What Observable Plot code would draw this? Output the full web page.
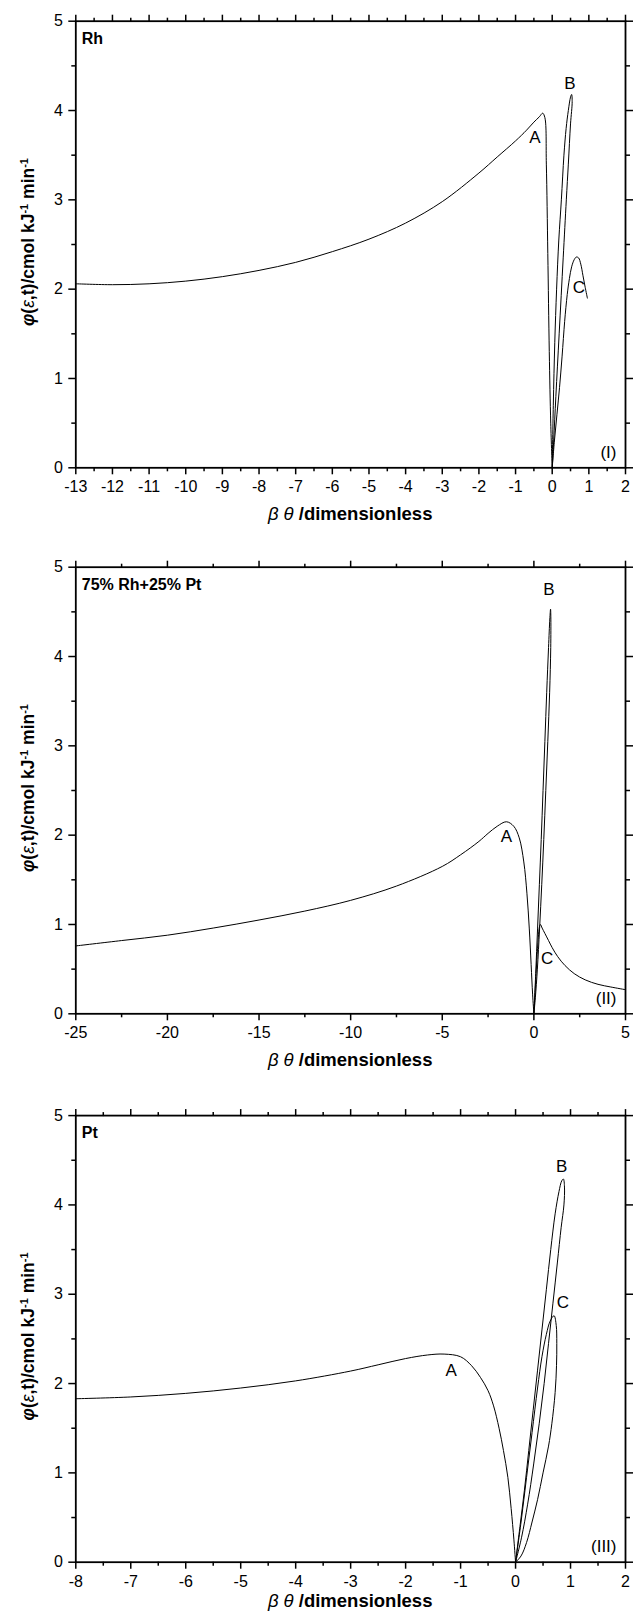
<!DOCTYPE html>
<html><head><meta charset="utf-8">
<script src="https://cdn.jsdelivr.net/npm/d3@7"></script>
<script src="https://cdn.jsdelivr.net/npm/@observablehq/plot@0.6"></script>
<style>
body{margin:0;background:#fff}
#chart{width:633px;height:1612px;position:relative;background:#fff}
#chart svg{display:block;position:absolute;left:0}
</style>
</head><body><div id="chart"></div>
<script>
// ---------- Panel I : Rh ----------
const rhA_x = [-13,-12,-11,-10,-9,-8,-7,-6,-5,-4,-3,-2,-1.5,-1,-0.7,-0.5,-0.35,-0.26,-0.2,-0.16,-0.12,-0.08,-0.04,0];
const rhA_y = [2.06,2.05,2.06,2.09,2.14,2.21,2.30,2.42,2.56,2.74,2.98,3.30,3.48,3.66,3.78,3.87,3.93,3.97,3.92,3.4,2.4,1.3,0.5,0];
const rhB_x = [0,0.03,0.07,0.12,0.18,0.25,0.32,0.38,0.44,0.5,0.53,0.545,0.5,0.44,0.385,0.3,0.19,0.1,0.04,0];
const rhB_y = [0,0.7,1.4,2.0,2.55,3.0,3.5,3.8,4.0,4.15,4.18,4.1,3.85,3.4,3.0,2.35,1.5,0.8,0.3,0];
const rhC_x = [0,0.06,0.13,0.2,0.27,0.34,0.41,0.47,0.53,0.6,0.66,0.72,0.78,0.84,0.9,0.96];
const rhC_y = [0,0.3,0.6,0.9,1.25,1.64,1.94,2.12,2.25,2.33,2.36,2.35,2.28,2.15,2.02,1.9];

// ---------- Panel II : 75% Rh + 25% Pt ----------
const mixA_x = [-25,-22.5,-20,-17.5,-15,-12.5,-10,-7.5,-5,-4,-3,-2.5,-2,-1.5,-1.1,-0.8,-0.55,-0.38,-0.25,-0.15,-0.07,0];
const mixA_y = [0.76,0.82,0.88,0.96,1.05,1.15,1.27,1.43,1.65,1.78,1.93,2.02,2.1,2.15,2.1,1.97,1.7,1.35,0.95,0.55,0.22,0];
const mixB_x = [0,0.1,0.2,0.3,0.4,0.5,0.6,0.7,0.8,0.87,0.91,0.925,0.92,0.86,0.76,0.65,0.54,0.43,0.31,0.19,0.08,0];
const mixB_y = [0,0.45,0.95,1.45,1.95,2.5,3.05,3.6,4.1,4.42,4.53,4.45,4.1,3.6,3.05,2.5,1.95,1.45,0.95,0.5,0.18,0];
const mixC_x = [0,0.08,0.16,0.24,0.3,0.36,0.45,0.6,0.8,1.0,1.3,1.7,2.2,2.8,3.5,4.2,5];
const mixC_y = [0,0.3,0.6,0.85,0.97,1.0,0.96,0.9,0.82,0.74,0.64,0.54,0.45,0.38,0.33,0.3,0.27];

// ---------- Panel III : Pt ----------
const ptA_x = [-8,-7,-6,-5,-4,-3,-2.5,-2,-1.6,-1.3,-1.0,-0.8,-0.64,-0.5,-0.4,-0.3,-0.22,-0.14,-0.08,-0.03,0];
const ptA_y = [1.83,1.85,1.89,1.95,2.03,2.14,2.21,2.28,2.32,2.33,2.3,2.2,2.07,1.92,1.75,1.5,1.25,0.95,0.6,0.25,0];
const ptB_x = [0,0.08,0.16,0.24,0.32,0.4,0.48,0.56,0.64,0.72,0.79,0.84,0.87,0.89,0.88,0.83,0.76,0.68,0.6,0.52,0.43,0.33,0.22,0.11,0];
const ptB_y = [0,0.4,0.8,1.25,1.7,2.15,2.6,3.05,3.5,3.9,4.15,4.27,4.29,4.2,4.0,3.75,3.35,2.9,2.45,2.0,1.55,1.1,0.65,0.28,0];
const ptC_x = [0,0.1,0.2,0.3,0.4,0.48,0.56,0.63,0.7,0.74,0.75,0.745,0.72,0.66,0.6,0.5,0.4,0.3,0.2,0.1,0];
const ptC_y = [0,0.45,0.95,1.45,1.95,2.3,2.55,2.7,2.76,2.65,2.45,2.2,1.9,1.55,1.3,1.0,0.7,0.45,0.22,0.07,0];

// ---------- ticks ----------
const yTicks = [0,1,2,3,4,5];
const yMinor = [0.5,1.5,2.5,3.5,4.5];
const x1Ticks = [-13,-12,-11,-10,-9,-8,-7,-6,-5,-4,-3,-2,-1,0,1,2];
const x1Minor = [-12.5,-11.5,-10.5,-9.5,-8.5,-7.5,-6.5,-5.5,-4.5,-3.5,-2.5,-1.5,-0.5,0.5,1.5];
const x2Ticks = [-25,-20,-15,-10,-5,0,5];
const x2Minor = [-22.5,-17.5,-12.5,-7.5,-2.5,2.5];
const x3Ticks = [-8,-7,-6,-5,-4,-3,-2,-1,0,1,2];
const x3Minor = [-7.5,-6.5,-5.5,-4.5,-3.5,-2.5,-1.5,-0.5,0.5,1.5];

// ---------- labels ----------
const panelTitles = ["Rh","75% Rh+25% Pt","Pt"];
const romans = ["(I)","(II)","(III)"];
const curveNames = ["A","B","C"];
const lab1_x = [-0.47,0.48,0.73], lab1_y = [3.70,4.30,2.02];
const lab2_x = [-1.5,0.82,0.73],  lab2_y = [1.98,4.75,0.62];
const lab3_x = [-1.17,0.84,0.86], lab3_y = [2.15,4.43,2.91];

const FONT = "'Liberation Sans', Arial, Helvetica, sans-serif";
const toPts = (xs, ys) => xs.map((x, i) => ({x, y: ys[i]}));

function panel(cfg) {
  const {top: svgTop, height, mt, mb, xDomain, xTicks, xMinor, curves, labX, labY, title, roman} = cfg;
  const ml = 75.3, mr = 8;
  const labels = labX.map((x, i) => ({x, y: labY[i], t: curveNames[i]}));
  const svg = Plot.plot({
    width: 633, height, marginLeft: ml, marginRight: mr, marginTop: mt, marginBottom: mb,
    style: {fontFamily: FONT, fontSize: "16px", color: "black", background: "transparent"},
    x: {domain: xDomain, label: null},
    y: {domain: [0, 5], label: null},
    marks: [
      ...curves.map(c => Plot.line(toPts(c[0], c[1]), {x: "x", y: "y", stroke: "black", strokeWidth: 1, curve: "catmull-rom"})),
      Plot.axisX({ticks: xTicks, tickSize: 7, tickPadding: 6, strokeWidth: 1.5, tickFormat: d => String(d), label: null, fontSize: 16}),
      Plot.axisX({ticks: xMinor, tickSize: 4, strokeWidth: 1.5, tickFormat: () => "", label: null}),
      Plot.axisX({anchor: "top", ticks: xTicks, tickSize: 7, strokeWidth: 1.5, tickFormat: () => "", label: null}),
      Plot.axisX({anchor: "top", ticks: xMinor, tickSize: 4, strokeWidth: 1.5, tickFormat: () => "", label: null}),
      Plot.axisY({ticks: yTicks, tickSize: 7, tickPadding: 6, strokeWidth: 1.5, tickFormat: d => String(d), label: null, fontSize: 16}),
      Plot.axisY({ticks: yMinor, tickSize: 4, strokeWidth: 1.5, tickFormat: () => "", label: null}),
      Plot.axisY({anchor: "right", ticks: yTicks, tickSize: 7, strokeWidth: 1.5, tickFormat: () => "", label: null}),
      Plot.axisY({anchor: "right", ticks: yMinor, tickSize: 4, strokeWidth: 1.5, tickFormat: () => "", label: null}),
      Plot.frame({stroke: "black", strokeWidth: 1.8}),
      Plot.text(labels, {x: "x", y: "y", text: "t", fontSize: 17, fill: "black"}),
      Plot.text([title], {frameAnchor: "top-left", dx: 6, dy: 11, fontWeight: "bold", fontSize: 16, textAnchor: "start", lineAnchor: "top", fill: "black"}),
      Plot.text([roman], {frameAnchor: "bottom-right", dx: -9, dy: -10, fontSize: 17, textAnchor: "end", lineAnchor: "bottom", fill: "black"})
    ]
  });
  svg.style.top = svgTop + "px";
  const s = d3.select(svg);
  const bottom = height - mb, cy = (mt + bottom) / 2 - 2, cx = (ml + 633 - mr) / 2;
  // y title
  const yt = s.append("text")
    .attr("transform", `translate(34,${cy}) rotate(-90)`)
    .attr("text-anchor", "middle").attr("font-family", FONT)
    .attr("font-weight", "bold").attr("font-size", 17.5).attr("fill", "black");
  yt.append("tspan").attr("font-style", "italic").text("φ");
  yt.append("tspan").text("(");
  yt.append("tspan").attr("font-style", "italic").attr("font-weight", "normal").text("ε");
  yt.append("tspan").text(",t)/cmol kJ");
  yt.append("tspan").attr("baseline-shift", "super").attr("font-size", 11).text("-1");
  yt.append("tspan").text(" min");
  yt.append("tspan").attr("baseline-shift", "super").attr("font-size", 11).text("-1");
  // x title
  const xt = s.append("text")
    .attr("x", cx).attr("y", bottom + cfg.xTitleOffset)
    .attr("text-anchor", "middle").attr("font-family", FONT)
    .attr("font-weight", "bold").attr("font-size", 18.5).attr("fill", "black");
  xt.append("tspan").attr("font-style", "italic").attr("font-weight", "normal").text("β θ ");
  xt.append("tspan").text("/dimensionless");
  return svg;
}

const root = document.getElementById("chart");
root.appendChild(panel({top: 0, height: 547, mt: 20.7, mb: 79.7, xDomain: [-13, 2], xTicks: x1Ticks, xMinor: x1Minor,
  curves: [[rhA_x, rhA_y], [rhB_x, rhB_y], [rhC_x, rhC_y]], labX: lab1_x, labY: lab1_y,
  title: panelTitles[0], roman: romans[0], xTitleOffset: 53}));
root.appendChild(panel({top: 547, height: 547, mt: 19.7, mb: 80.7, xDomain: [-25, 5], xTicks: x2Ticks, xMinor: x2Minor,
  curves: [[mixA_x, mixA_y], [mixB_x, mixB_y], [mixC_x, mixC_y]], labX: lab2_x, labY: lab2_y,
  title: panelTitles[1], roman: romans[1], xTitleOffset: 53}));
root.appendChild(panel({top: 1094, height: 518, mt: 21.1, mb: 50.3, xDomain: [-8, 2], xTicks: x3Ticks, xMinor: x3Minor,
  curves: [[ptA_x, ptA_y], [ptB_x, ptB_y], [ptC_x, ptC_y]], labX: lab3_x, labY: lab3_y,
  title: panelTitles[2], roman: romans[2], xTitleOffset: 45}));
</script>
</body></html>
